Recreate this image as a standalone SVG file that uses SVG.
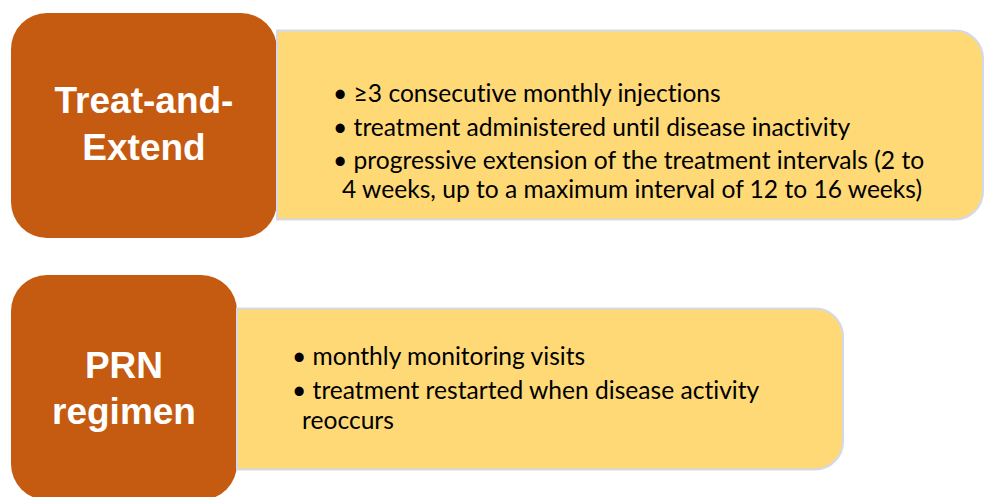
<svg xmlns="http://www.w3.org/2000/svg" width="985" height="497" viewBox="0 0 985 497">
  <style>
    .head { fill: #C55A11; }
    .panel { fill: #FED976; stroke: #D3D9EA; stroke-width: 2; }
    .title { font-family: "Liberation Sans", Arial, sans-serif; font-weight: bold; font-size: 37px; fill: #FFFFFF; text-anchor: middle; }
    .body { font-family: Lato, "Liberation Sans", sans-serif; font-size: 24.6px; fill: #000000; font-variant-ligatures: none; font-feature-settings: "liga" 0, "dlig" 0; }
  </style>
  <rect width="985" height="497" fill="#FFFFFF"/>

  <!-- Treat-and-Extend -->
  <g id="tae-label">
    <rect class="head" x="11" y="13" width="266" height="225" rx="36" ry="36"/>
    <text class="title" x="144" y="113">Treat-and-</text>
    <text class="title" x="144" y="160">Extend</text>
  </g>
  <g id="tae-details">
    <path class="panel" d="M277 30.5 H955 A28 28 0 0 1 983 58.5 V191.5 A28 28 0 0 1 955 219.5 H277 Z"/>
    <text class="body" x="333" y="102">• ≥3 consecutive monthly injections</text>
    <text class="body" x="333" y="136">• treatment administered until disease inactivity</text>
    <text class="body" x="333" y="169">• progressive extension of the treatment intervals (2 to</text>
    <text class="body" x="342" y="198">4 weeks, up to a maximum interval of 12 to 16 weeks)</text>
  </g>

  <!-- PRN regimen -->
  <g id="prn-label">
    <rect class="head" x="11" y="275" width="226" height="225" rx="36" ry="36"/>
    <text class="title" x="124" y="378">PRN</text>
    <text class="title" x="124" y="424">regimen</text>
  </g>
  <g id="prn-details">
    <path class="panel" d="M237 308.5 H815 A28 28 0 0 1 843 336.5 V441.5 A28 28 0 0 1 815 469.5 H237 Z"/>
    <text class="body" x="292" y="365">• monthly monitoring visits</text>
    <text class="body" x="292" y="399">• treatment restarted when disease activity</text>
    <text class="body" x="302" y="429">reoccurs</text>
  </g>

  <g id="connectors"/>
</svg>
